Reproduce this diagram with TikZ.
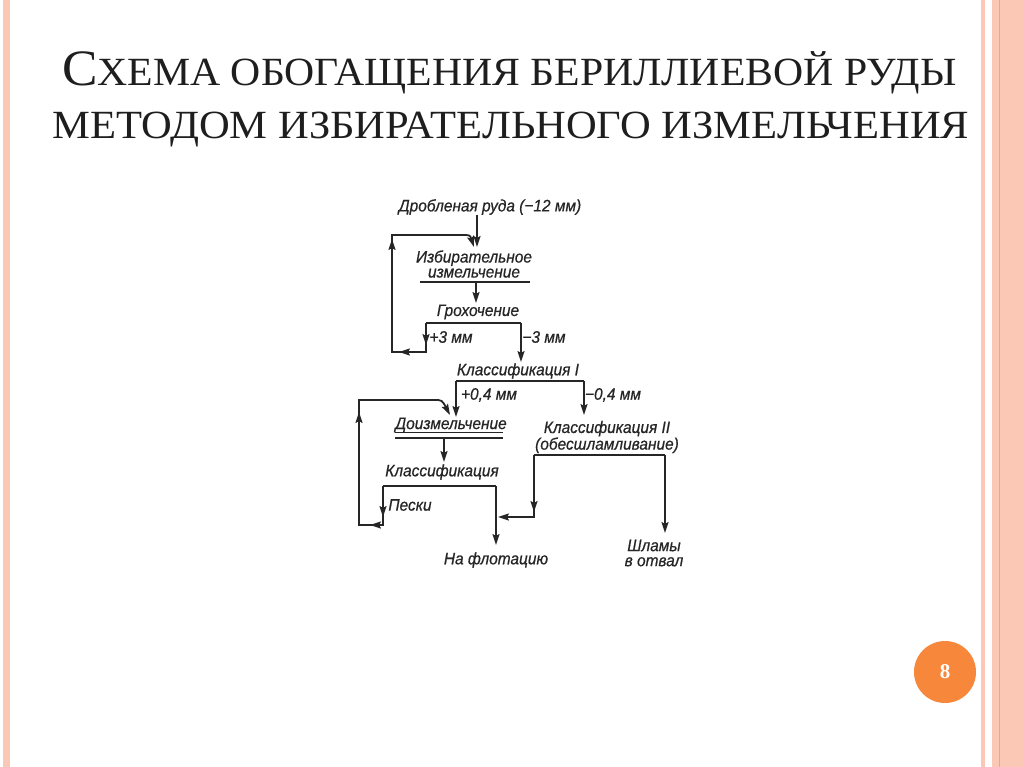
\documentclass[tikz,border=0pt]{standalone}
\usepackage{fontspec}
\setmainfont{Liberation Serif}
\newfontfamily\diagfont{Liberation Sans}[FakeStretch=0.93, FakeBold=0.6]
\usetikzlibrary{arrows.meta,decorations.markings}
\definecolor{stripe}{HTML}{FCC8B6}
\definecolor{stripedark}{HTML}{F2A582}
\definecolor{pgorange}{HTML}{F7873A}
\definecolor{ink}{HTML}{262626}
\definecolor{titleink}{HTML}{1E1E1E}
\begin{document}
\begin{tikzpicture}[x=1pt,y=-1pt,
  lbl/.style={font=\diagfont\itshape\fontsize{16.6}{15}\selectfont, text=ink, inner sep=0pt},
  ln/.style={draw=ink, line width=1.8pt},
  tip/.tip={Stealth[length=11pt,width=7pt,inset=2pt]},
  arr/.style={ln, -tip},
  bar/.style={draw=ink, line width=2.6pt},
  thinbar/.style={draw=ink, line width=1pt},
  title/.style={anchor=base west, inner sep=0pt, text=titleink}
]
\useasboundingbox (0,0) rectangle (1024,767);
\fill[white] (0,0) rectangle (1024,767);
% side stripes
\fill[stripe] (3,0) rectangle (10,767);
\fill[stripe] (981,0) rectangle (985,767);
\fill[stripe] (992,0) rectangle (1024,767);
\draw[stripedark, line width=1.2pt] (999.5,0) -- (999.5,767);

% title
\node[title] (t1) at (62,86) {\scalebox{1.043}[1]{\fontsize{51}{51}\selectfont С\fontsize{40}{40}\selectfont ХЕМА ОБОГАЩЕНИЯ БЕРИЛЛИЕВОЙ РУДЫ}};
\node[title] (t2) at (52,139) {\scalebox{1.064}[1]{\fontsize{40}{40}\selectfont МЕТОДОМ ИЗБИРАТЕЛЬНОГО ИЗМЕЛЬЧЕНИЯ}};

% page number
\node[circle, fill=pgorange, minimum size=62pt, inner sep=0pt, text=white,
      font=\fontsize{21}{21}\selectfont\bfseries] (pg) at (945,672) {8};

% diagram text
\node[lbl] (n1) at (490,207) {Дробленая руда (−12 мм)};
\node[lbl, align=center] (n2) at (474,264) {Избирательное\\измельчение};
\node[lbl] (n3) at (478,312) {Грохочение};
\node[lbl] (n4) at (451,337) {+3 мм};
\node[lbl] (n5) at (544,337) {−3 мм};
\node[lbl] (n6) at (518,371) {Классификация I};
\node[lbl] (n7) at (489,395) {+0,4 мм};
\node[lbl] (n8) at (613,395) {−0,4 мм};
\node[lbl] (n9) at (451,425) {Доизмельчение};
\node[lbl] (n10) at (442,472) {Классификация};
\node[lbl] (n11) at (410,505) {Пески};
\node[lbl] (n12) at (496,560) {На флотацию};
\node[lbl, align=center] (n13) at (607,437) {Классификация II\\(обесшламливание)};
\node[lbl, align=center] (n14) at (654,553) {Шламы\\в отвал};

% coordinates
\coordinate (in2) at (477,247);
\coordinate (b1l) at (420,282); \coordinate (b1r) at (530,282);
\coordinate (b1m) at (476,282); \coordinate (in3) at (476,303);
\coordinate (s1l) at (426,323); \coordinate (s1r) at (521,323);
\coordinate (in6) at (521,362);
\coordinate (l1a) at (426,352); \coordinate (l1b) at (392,352);
\coordinate (l1c) at (392,235); \coordinate (l1d) at (462,235);
\coordinate (l1e) at (470,235); \coordinate (in2b) at (474,247);
\coordinate (s2l) at (456,381); \coordinate (s2r) at (584,381);
\coordinate (in9) at (456,417); \coordinate (in13) at (584,415);
\coordinate (b2l) at (395,432); \coordinate (b2r) at (503,432);
\coordinate (b3l) at (395,438); \coordinate (b3r) at (503,438);
\coordinate (b3m) at (444,438); \coordinate (in10) at (444,462);
\coordinate (s3l) at (383,486); \coordinate (s3r) at (496,486);
\coordinate (l2a) at (383,525); \coordinate (l2b) at (359,525);
\coordinate (l2c) at (359,400); \coordinate (l2d) at (434,400);
\coordinate (l2e) at (442,400); \coordinate (in9b) at (450,415);
\coordinate (in12) at (496,545);
\coordinate (s4l) at (534,455); \coordinate (s4r) at (665,455);
\coordinate (l3a) at (534,517); \coordinate (l3b) at (498,517);
\coordinate (in14) at (665,533);

% connectors
\draw[arr] (n1.south -| in2) -- (in2);
\draw[bar] (b1l) -- (b1r);
\draw[arr] (b1m) -- (in3);
\draw[ln] (s1l) -- (s1r);
\draw[arr] (s1r) -- (in6);
\draw[arr, postaction={decorate, decoration={markings,
    mark=at position 22pt with {\arrow{tip}},
    mark=at position 56pt with {\arrow{tip}},
    mark=at position 176pt with {\arrow{tip}}}}]
  (s1l) -- (l1a) -- (l1b) -- (l1c) -- (l1d) .. controls (l1e) .. (in2b);
\draw[ln] (s2l) -- (s2r);
\draw[arr] (s2l) -- (in9);
\draw[arr] (s2r) -- (in13);
\draw[thinbar] (b2l) -- (b2r);
\draw[bar] (b3l) -- (b3r);
\draw[arr] (b3m) -- (in10);
\draw[ln] (s3l) -- (s3r);
\draw[arr] (s3r) -- (in12);
\draw[arr, postaction={decorate, decoration={markings,
    mark=at position 31pt with {\arrow{tip}},
    mark=at position 52pt with {\arrow{tip}},
    mark=at position 176pt with {\arrow{tip}}}}]
  (s3l) -- (l2a) -- (l2b) -- (l2c) -- (l2d) .. controls (l2e) .. (in9b);
\draw[ln] (s4l) -- (s4r);
\draw[arr, postaction={decorate, decoration={markings,
    mark=at position 57pt with {\arrow{tip}}}}]
  (s4l) -- (l3a) -- (l3b);
\draw[arr] (s4r) -- (in14);
\end{tikzpicture}
\end{document}
